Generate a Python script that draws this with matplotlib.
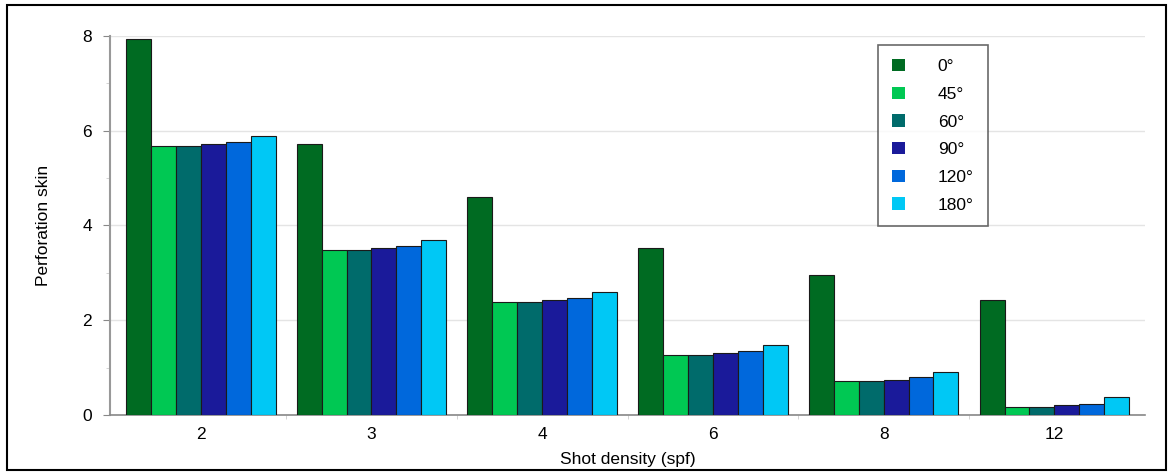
import numpy as np
import matplotlib
matplotlib.use('Agg')
import matplotlib.pyplot as plt
from matplotlib.patches import Rectangle
from matplotlib.ticker import MultipleLocator, FixedLocator

plt.rcParams['font.family'] = ['Liberation Sans', 'DejaVu Sans']

densities = ['2', '3', '4', '6', '8', '12']
phasings = ['0°', '45°', '60°', '90°', '120°', '180°']
skin_0 = [7.93, 5.72, 4.60, 3.52, 2.95, 2.43]
skin_45 = [5.68, 3.48, 2.38, 1.27, 0.72, 0.17]
skin_60 = [5.68, 3.48, 2.38, 1.27, 0.72, 0.17]
skin_90 = [5.72, 3.52, 2.43, 1.31, 0.74, 0.21]
skin_120 = [5.76, 3.57, 2.47, 1.35, 0.80, 0.23]
skin_180 = [5.89, 3.69, 2.60, 1.48, 0.91, 0.38]
series = [skin_0, skin_45, skin_60, skin_90, skin_120, skin_180]
bar_colors = ['#006b22', '#00c853', '#006b6b', '#1a1a9a', '#0068dc', '#00c8f5']

fig = plt.figure(figsize=(11.73, 4.74), dpi=100)
ax = fig.add_axes([0.094, 0.1245, 0.882, 0.8])

x = np.arange(len(densities))
w = 0.146
for i, vals in enumerate(series):
    ax.bar(x + (i - 2.5) * w, vals, w, color=bar_colors[i], edgecolor='#1a1a1a',
           linewidth=0.8, label=phasings[i], zorder=3)

ax.set_xlim(-0.53, 5.53)
ax.set_ylim(0, 8)
ax.set_xticks(x)
ax.set_xticklabels(densities)
ax.xaxis.set_minor_locator(FixedLocator(x[:-1] + 0.5))
ax.yaxis.set_major_locator(MultipleLocator(2))
ax.yaxis.set_minor_locator(MultipleLocator(1))
ax.tick_params(axis='both', which='major', labelsize=12.5, length=5, color='#888888')
ax.tick_params(axis='both', which='minor', length=3, color='#cccccc')
ax.tick_params(axis='x', which='major', length=0, pad=9)
ax.tick_params(axis='y', which='major', pad=8)
ax.grid(axis='y', color='#e4e4e4', linewidth=1, zorder=0)

for s in ['top', 'right']:
    ax.spines[s].set_visible(False)
ax.spines['left'].set_color('#999999')
ax.spines['left'].set_linewidth(1.5)
ax.spines['bottom'].set_color('#888888')
ax.spines['bottom'].set_linewidth(1.2)

ax.set_xlabel('Shot density (spf)', fontsize=12.5, labelpad=7)
ax.set_ylabel('Perforation skin', fontsize=12.5, labelpad=23)

leg = ax.legend(loc='upper left', bbox_to_anchor=(0.742, 0.975), fontsize=12.5,
                frameon=True, fancybox=False, edgecolor='#444444',
                handlelength=0.75, handleheight=0.7, handletextpad=1.9,
                labelspacing=0.72, borderpad=0.8, borderaxespad=0)
leg.get_frame().set_linewidth(1.2)
for h in leg.legend_handles:
    h.set_edgecolor('none')

fig.patches.append(Rectangle((0.006, 0.008), 0.988, 0.982, transform=fig.transFigure,
                             fill=False, edgecolor='black', linewidth=1.5))

fig.savefig('out.png', dpi=100)
